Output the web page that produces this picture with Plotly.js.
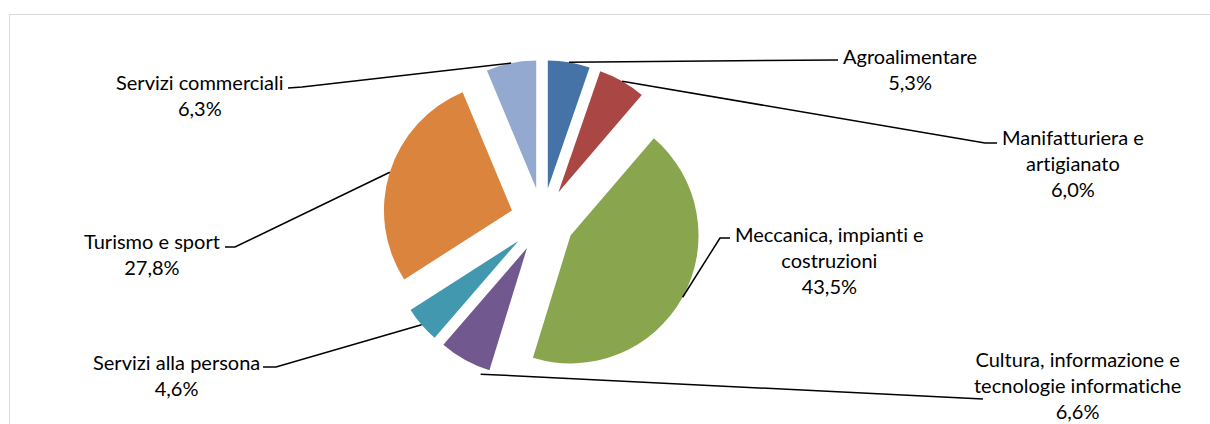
<!DOCTYPE html>
<html><head><meta charset="utf-8">
<script src="https://cdn.plot.ly/plotly-3.0.1.min.js"></script>
<style>html,body{margin:0;padding:0;background:#fff;overflow:hidden}#chart{width:1210px;height:424px}
text{font-variant-ligatures:none;font-feature-settings:"liga" 0,"clig" 0}</style>
</head><body><div id="chart"></div>
<script>
// ---- data ----
const categories = [
  "Agroalimentare",
  "Manifatturiera e<br>artigianato",
  "Meccanica, impianti e<br>costruzioni",
  "Cultura, informazione e<br>tecnologie informatiche",
  "Servizi alla persona",
  "Turismo e sport",
  "Servizi commerciali"
];
const values = [5.3, 6.0, 43.5, 6.6, 4.6, 27.8, 6.3];
const colors = ["#4572A7", "#AA4643", "#89A54E", "#71588F", "#4198AF", "#DB843D", "#93A9CF"];

// ---- layout / geometry (pixels) ----
const W = 1210, H = 424;
const CX = 542.5, CY = 220, R = 128, PULL = 0.25;
const FONT = "Lato, 'Liberation Sans', Arial, sans-serif";
const FS = 20;
// label block centre, leader elbow points (from slice toward label), anchor tweaks
const labelPos = [
  {x: 910,  y: 69,  path: [[838, 60]]},
  {x: 1073, y: 163, path: [[985, 143], [997, 143]]},
  {x: 829,  y: 260, path: [[720, 238], [730, 238]]},
  {x: 1077, y: 385, path: [[983, 399]], f: 0.13, k: 1.05},
  {x: 176,  y: 375, path: [[276, 367], [263, 367]]},
  {x: 152,  y: 254, path: [[235, 247], [225, 247]]},
  {x: 200,  y: 95,  path: [[302, 87], [288, 88]]}
];

const half = R * (1 + PULL);
const px = x => x / W, py = y => 1 - y / H;

const total = values.reduce((a, b) => a + b, 0);
const fmt = v => v.toFixed(1).replace('.', ',') + '%';

const shapes = [{
  type: 'rect', xref: 'paper', yref: 'paper',
  x0: px(9.5), x1: px(W + 20), y0: py(14.5), y1: py(H + 20),
  line: {color: '#d9d9d9', width: 1}, fillcolor: 'rgba(0,0,0,0)', layer: 'below'
}];
const annotations = [];
let cum = 0;
values.forEach((v, i) => {
  const span = v / total * 360;
  const a0 = cum; cum += span;
  const lp = labelPos[i];
  const f = lp.f ?? 0.5, k = lp.k ?? 1;
  const am = (a0 + span / 2) * Math.PI / 180;
  const at = (a0 + f * span) * Math.PI / 180;
  const ax = CX + PULL * R * Math.sin(am), ay = CY - PULL * R * Math.cos(am);
  const sx = ax + k * R * Math.sin(at), sy = ay - k * R * Math.cos(at);
  const pts = [[sx, sy]].concat(lp.path);
  const d = pts.map((p, j) => (j ? 'L' : 'M') + px(p[0]) + ',' + py(p[1])).join(' ');
  shapes.push({type: 'path', xref: 'paper', yref: 'paper', path: d,
    line: {color: '#000', width: 1.5}});
  annotations.push({
    xref: 'paper', yref: 'paper', x: px(lp.x), y: py(lp.y),
    xanchor: 'center', yanchor: 'middle', align: 'center', showarrow: false,
    text: categories[i] + '<br>' + fmt(v),
    font: {family: FONT, size: FS, color: '#000'}
  });
});

const trace = {
  type: 'pie',
  labels: categories,
  values: values,
  marker: {colors: colors, line: {width: 0}},
  pull: values.map(() => PULL),
  sort: false,
  direction: 'clockwise',
  rotation: 0,
  textinfo: 'none',
  hoverinfo: 'none',
  domain: {x: [px(CX - half), px(CX + half)], y: [py(CY + half), py(CY - half)]}
};

Plotly.newPlot('chart', [trace], {
  width: W, height: H,
  margin: {l: 0, r: 0, t: 0, b: 0},
  paper_bgcolor: '#fff', plot_bgcolor: '#fff',
  showlegend: false,
  shapes: shapes,
  annotations: annotations
}, {staticPlot: true});
</script>
</body></html>
